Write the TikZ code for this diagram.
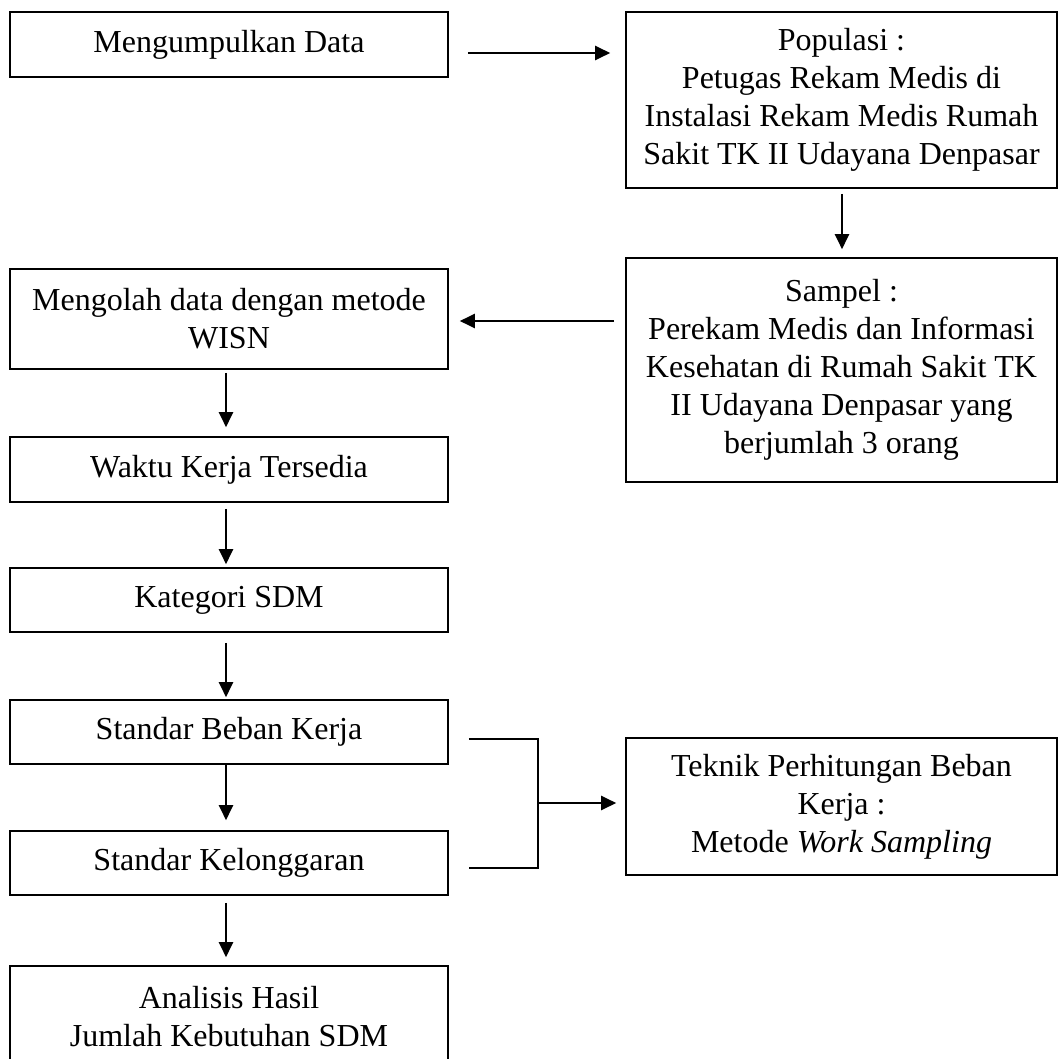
\documentclass[tikz,border=0pt]{standalone}
\usepackage{fontspec}
\setmainfont{Liberation Serif}
\usetikzlibrary{arrows.meta,calc}
\begin{document}
\begin{tikzpicture}[x=1pt,y=-1pt,
  box/.style={draw, line width=1.6pt, inner sep=0pt, align=center, font=\fontsize{32}{38}\selectfont},
  lbox/.style={box, minimum width=438pt},
  rbox/.style={box, minimum width=431pt},
  arr/.style={line width=2.2pt, -{Triangle[length=15pt,width=14pt]}},
  ln/.style={line width=2.2pt}]
\clip (0,0) rectangle (1059,1059);
\fill[white] (0,0) rectangle (1059,1059);

\node[lbox, minimum height=65pt] (n1) at (229,44.5) {Mengumpulkan Data};
\node[rbox, minimum height=176pt] (n2) at (841.5,100) {Populasi :\\Petugas Rekam Medis di\\Instalasi Rekam Medis Rumah\\Sakit TK II Udayana Denpasar};
\node[rbox, minimum height=224pt] (n3) at (841.5,370) {Sampel :\\Perekam Medis dan Informasi\\Kesehatan di Rumah Sakit TK\\II Udayana Denpasar yang\\berjumlah 3 orang};
\node[lbox, minimum height=100pt] (n4) at (229,319) {Mengolah data dengan metode\\WISN};
\node[lbox, minimum height=65pt] (n5) at (229,469.5) {Waktu Kerja Tersedia};
\node[lbox, minimum height=64pt] (n6) at (229,600) {Kategori SDM};
\node[lbox, minimum height=64pt] (n7) at (229,732) {Standar Beban Kerja};
\node[lbox, minimum height=64pt] (n8) at (229,863) {Standar Kelonggaran};
\node[lbox, minimum height=101pt] (n9) at (229,1016.5) {Analisis Hasil\\Jumlah Kebutuhan SDM};
\node[rbox, minimum height=137pt] (n10) at (841.5,806.5) {Teknik Perhitungan Beban\\Kerja :\\Metode \textit{Work Sampling}};

\draw[arr] ($(n1.east)+(19,8.5)$) -- ($(n1.east -| n2.west)+(-15,8.5)$);
\draw[arr] ($(n2.south)+(0.5,5)$) -- ($(n3.north)+(0.5,-8)$);
\draw[arr] ($(n3.west |- n4.east)+(-11,2)$) -- ($(n4.east)+(11,2)$);

\draw[arr] ($(n4.south)+(-3,3)$) -- ($(n5.north)+(-3,-9)$);
\draw[arr] ($(n5.south)+(-3,6)$) -- ($(n6.north)+(-3,-3)$);
\draw[arr] ($(n6.south)+(-3,10)$) -- ($(n7.north)+(-3,-2)$);
\draw[arr] ($(n7.south)+(-3,0)$) -- ($(n8.north)+(-3,-10)$);
\draw[arr] ($(n8.south)+(-3,7)$) -- ($(n9.north)+(-3,-8)$);

\draw[ln] ($(n7.east)+(20,7)$) -- ($(n7.east)+(89,7)$) -- ($(n8.east)+(89,5)$) -- ($(n8.east)+(20,5)$);
\coordinate (jn) at ($(n7.east)+(89,71)$);
\draw[arr] (jn) -- ($(jn -| n10.west)+(-9,0)$);
\end{tikzpicture}
\end{document}
